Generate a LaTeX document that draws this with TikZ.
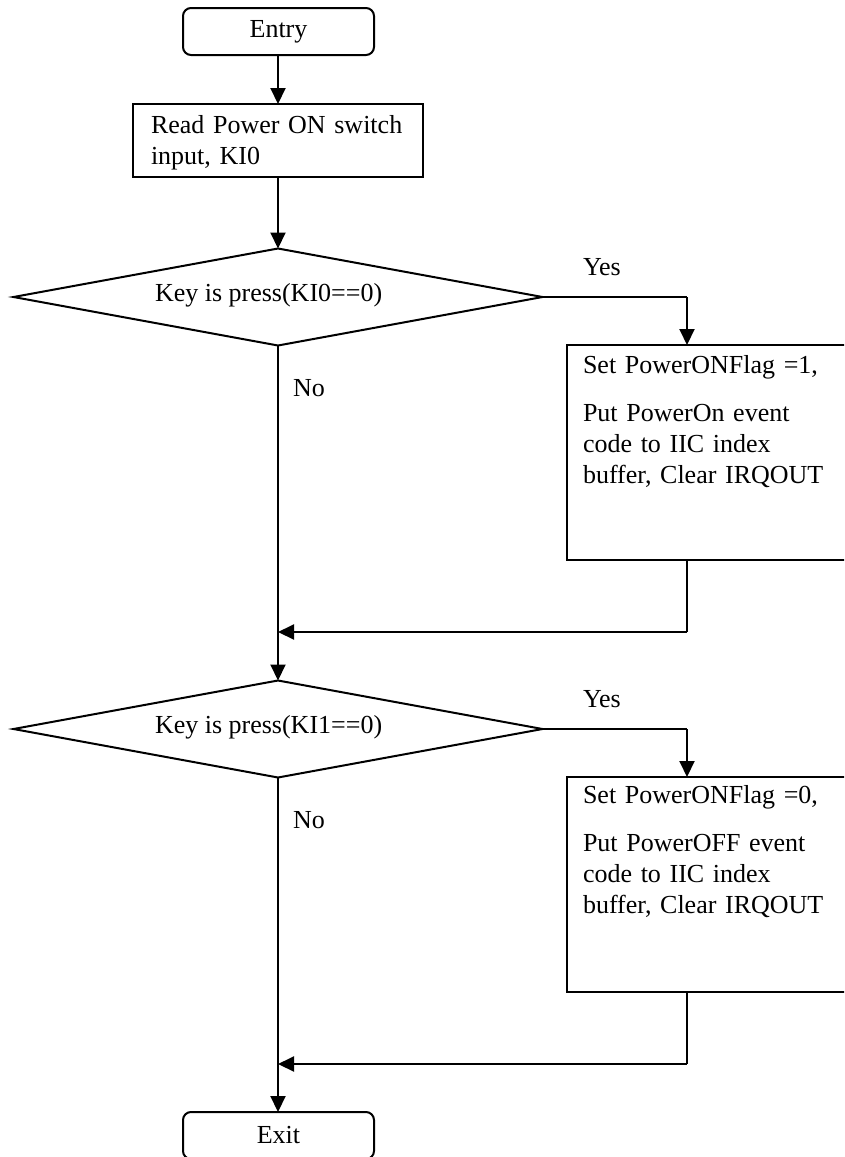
\documentclass[tikz,border=0pt]{standalone}
\usepackage{fontspec}
\setmainfont{Liberation Serif}
\usetikzlibrary{arrows.meta,shapes.geometric}
\begin{document}
\begin{tikzpicture}[x=1pt,y=-1pt,
  line width=2pt,
  every node/.style={font=\fontsize{26}{31}\selectfont, inner sep=0pt, outer sep=0pt},
  arr/.style={-{Triangle[length=16pt,width=15pt]}},
  term/.style={draw, rounded corners=8pt, minimum width=191pt, minimum height=47pt},
  procbox/.style={draw, rectangle},
  dec/.style={draw, diamond, minimum width=529pt, minimum height=97pt},
  txt/.style={anchor=base west, text width=#1, align=left},
  lbl/.style={anchor=base west},
]
\clip (0,0) rectangle (844,1157);
\fill[white] (0,0) rectangle (844,1157);

% shapes
\node[term] (entry) at (278.5,31.5) {Entry};
\node[procbox, minimum width=290pt, minimum height=73pt] (read) at (278,140.5) {};
\node[txt=280pt] (readtxt) at (151,133) {Read Power ON switch\\input, KI0};

\node[dec] (d1) at (278,297) {};
\node[lbl] (d1txt) at (155,301) {Key is press(KI0==0)};

\node[procbox, minimum width=333pt, minimum height=215pt] (b1) at (733.5,452.5) {};
\node[txt=300pt] (b1txt) at (583,373) {Set PowerONFlag =1,\\[17pt]Put PowerOn event\\code to IIC index\\buffer, Clear IRQOUT};

\node[dec] (d2) at (278,729) {};
\node[lbl] (d2txt) at (155,733) {Key is press(KI1==0)};

\node[procbox, minimum width=333pt, minimum height=215pt] (b2) at (733.5,884.5) {};
\node[txt=300pt] (b2txt) at (583,803) {Set PowerONFlag =0,\\[17pt]Put PowerOFF event\\code to IIC index\\buffer, Clear IRQOUT};

\node[term] (exit) at (278.5,1135.5) {Exit};

% labels
\node[lbl] (yes1) at (583,275) {Yes};
\node[lbl] (no1) at (293,396) {No};
\node[lbl] (yes2) at (583,707) {Yes};
\node[lbl] (no2) at (293,828) {No};

% helper coordinates
\coordinate (c1) at (687,297);
\coordinate (m1) at (278,632);
\coordinate (c2) at (687,729);
\coordinate (m2) at (278,1064);

% connectors
\draw[arr] (entry.south -| read.north) -- (read.north);
\draw[arr] (read.south) -- (d1.north);
\draw (d1.east) -- (c1);
\draw[arr] (c1) -- (c1 |- b1.north);
\draw (c1 |- b1.south) -- (c1 |- m1);
\draw[arr] (c1 |- m1) -- (m1);
\draw[arr] (d1.south) -- (d2.north);
\draw (d2.east) -- (c2);
\draw[arr] (c2) -- (c2 |- b2.north);
\draw (c2 |- b2.south) -- (c2 |- m2);
\draw[arr] (c2 |- m2) -- (m2);
\draw[arr] (d2.south) -- (exit.north -| d2.south);
\end{tikzpicture}
\end{document}
